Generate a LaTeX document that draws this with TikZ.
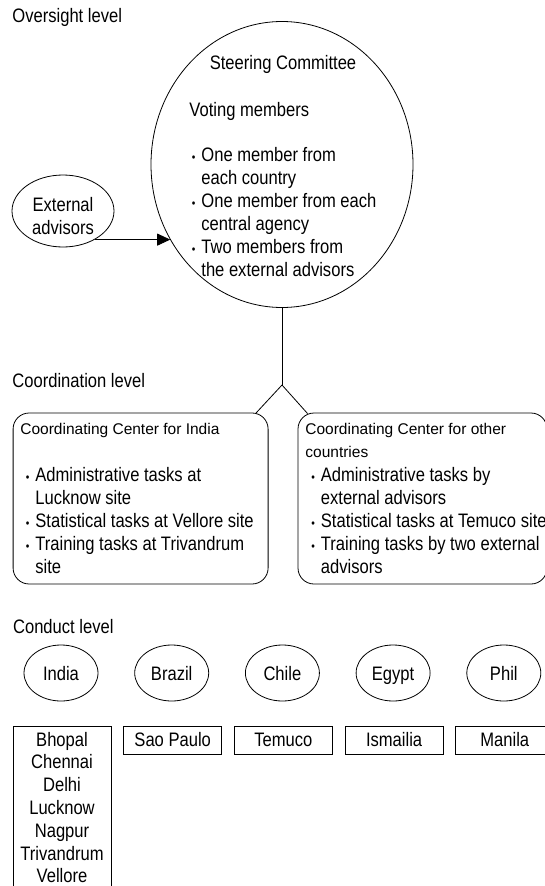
\documentclass[tikz,border=0pt]{standalone}
\usepackage{fontspec}
\setmainfont{Liberation Sans}[FakeStretch=0.85]
\newfontfamily\ccfont{Liberation Sans}
\usetikzlibrary{positioning,arrows.meta,calc,shapes.geometric}
\newcommand{\bul}{\llap{\fontsize{12}{12}\selectfont\textbullet\hspace{6pt}}}

\begin{document}
\begin{tikzpicture}[x=1pt,y=-1pt,line width=0.8pt,
  every node/.style={font=\fontsize{19.5}{23}\selectfont},
  lbl/.style={anchor=base west,inner sep=0pt},
  ctr/.style={anchor=base,inner sep=0pt},
  cctitle/.style={lbl,font=\ccfont\fontsize{15.5}{18}\selectfont},
  oval/.style={draw,ellipse,inner sep=0pt},
  country/.style={oval,minimum width=74pt,minimum height=56pt,text height=14pt,text depth=0pt},
  ccbox/.style={draw,rounded corners=16pt,minimum width=255pt,minimum height=171pt,inner sep=0pt},
  sitebox/.style={draw,minimum width=98pt,minimum height=28pt,inner sep=0pt},
  arr/.style={-{Triangle[length=13pt,width=12pt]}}]
\useasboundingbox (0,0) rectangle (545,886);

% oversight level: steering committee and external advisors
\node[lbl] (oversight) at (12,23) {Oversight level};
\node[oval,minimum width=262pt,minimum height=286pt] (steer) at (282,164.5) {};
\node[ctr] (steertitle) at (283,69) {Steering Committee};
\node[lbl] (voting) at (189,116) {Voting members};
\node[lbl] (sc1) at (201,161) {\bul One member from};
\node[lbl] (sc2) at (201,184) {each country};
\node[lbl] (sc3) at (201,207) {\bul One member from each};
\node[lbl] (sc4) at (201,230) {central agency};
\node[lbl] (sc5) at (201,253) {\bul Two members from};
\node[lbl] (sc6) at (201,276) {the external advisors};
\node[oval,minimum width=102pt,minimum height=72pt] (ext) at (63,211) {};
\node[ctr] (ext1) at (63,211) {External};
\node[ctr] (ext2) at (63,234) {advisors};
\draw[arr] (ext.-42) -- (ext.-42 -| steer.214);

% coordination level: two centers
\node[lbl] (coordination) at (12,387) {Coordination level};
\coordinate (fork) at (282,385);
\draw (steer.south) -- (fork);
\node[ccbox] (ccindia) at (140.6,498.5) {};
\node[ccbox,minimum width=249pt] (ccother) at (422.5,498.5) {};
\draw (fork) -- ($(ccindia.north east)+(-13,1)$);
\draw (fork) -- ($(ccother.north west)+(10,1)$);

\node[cctitle] (ccindiatitle) at (20,434) {Coordinating Center for India};
\node[lbl] (ci1) at (35,481) {\bul Administrative tasks at};
\node[lbl] (ci2) at (35,504) {Lucknow site};
\node[lbl] (ci3) at (35,527) {\bul Statistical tasks at Vellore site};
\node[lbl] (ci4) at (35,550) {\bul Training tasks at Trivandrum};
\node[lbl] (ci5) at (35,573) {site};

\node[cctitle] (ccothertitle) at (305,434) {Coordinating Center for other};
\node[cctitle] (ccothertitle2) at (305,457) {countries};
\node[lbl] (co1) at (320.5,481) {\bul Administrative tasks by};
\node[lbl] (co2) at (320.5,504) {external advisors};
\node[lbl] (co3) at (320.5,527) {\bul Statistical tasks at Temuco site};
\node[lbl] (co4) at (320.5,550) {\bul Training tasks by two external};
\node[lbl] (co5) at (320.5,573) {advisors};

% conduct level: countries and sites
\node[lbl] (conduct) at (12.7,633) {Conduct level};
\foreach \nm/\txt [count=\i from 0] in {india/India,brazil/Brazil,chile/Chile,egypt/Egypt,phil/Phil}
  \node[country] (\nm) at ({61+110.7*\i},673) {\txt};
\foreach \nm/\txt [count=\i from 1] in {saopaulo/Sao Paulo,temuco/Temuco,ismailia/Ismailia,manila/Manila}
  \node[sitebox] (\nm) at ({62+110.7*\i},740) {\txt};
\node[sitebox,anchor=north,minimum height=190pt] (indiasites) at (62,726) {};
\foreach \city [count=\i from 0] in {Bhopal,Chennai,Delhi,Lucknow,Nagpur,Trivandrum,Vellore}
  \node[ctr] (city\i) at (62,{746+22.8*\i}) {\city};
\end{tikzpicture}
\end{document}
